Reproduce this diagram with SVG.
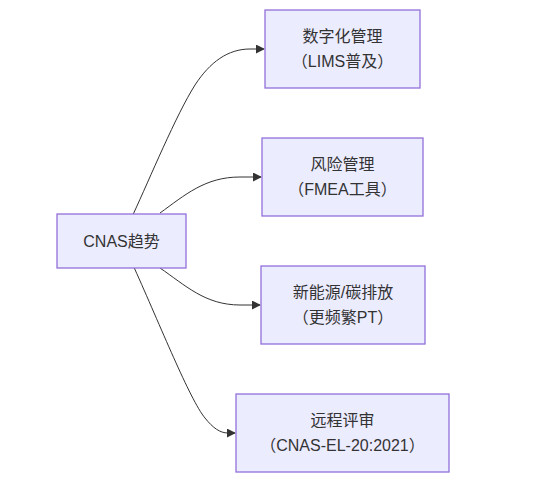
<svg xmlns="http://www.w3.org/2000/svg" width="539" height="488" viewBox="0 0 539 488">
<style>
.node rect{fill:#ECECFF;stroke:#9370DB;stroke-width:1.3px}
.node text{font-family:"Liberation Sans","Noto Sans CJK SC",sans-serif;font-size:16px;fill:#333;text-anchor:middle;dominant-baseline:central}
.edge{fill:none;stroke:#333;stroke-width:1px;marker-end:url(#arrow)}
</style>
<defs>
<marker id="arrow" viewBox="0 0 10 10" refX="9" refY="5" markerUnits="userSpaceOnUse" markerWidth="9" markerHeight="9" orient="auto">
<path d="M0,0 L10,5 L0,10 z" fill="#333"/>
</marker>
</defs>
<rect width="539" height="488" fill="#fff"/>
<g id="connectors">
<path class="edge" d="M133.3,214 C150,178 176,115 195,85 C210,62 228,49 250,49 L264,49"/>
<path class="edge" d="M160,213 C185,195 205,177 240,177 L261,177"/>
<path class="edge" d="M160,268 C185,285 205,305 240,305 L260,305"/>
<path class="edge" d="M134.3,268 C160,325 190,400 205,418 C213,428 220,433 228,433 L235,433"/>
</g>
<g id="cnas" class="node">
<rect x="57" y="214" width="129" height="54"/>
<text x="121.5" y="241">CNAS趋势</text>
</g>
<g id="digital" class="node">
<rect x="265" y="10" width="155" height="78"/>
<text x="342.5" y="36">数字化管理</text>
<text x="342.5" y="61">（LIMS普及）</text>
</g>
<g id="risk" class="node">
<rect x="262" y="138" width="161" height="78"/>
<text x="342.5" y="164">风险管理</text>
<text x="342.5" y="189">（FMEA工具）</text>
</g>
<g id="energy" class="node">
<rect x="261" y="266" width="164" height="78"/>
<text x="343" y="292">新能源/碳排放</text>
<text x="343" y="317">（更频繁PT）</text>
</g>
<g id="remote" class="node">
<rect x="236" y="394" width="213" height="78"/>
<text x="342.5" y="420">远程评审</text>
<text x="342.5" y="445">（CNAS-EL-20:2021）</text>
</g>
</svg>
